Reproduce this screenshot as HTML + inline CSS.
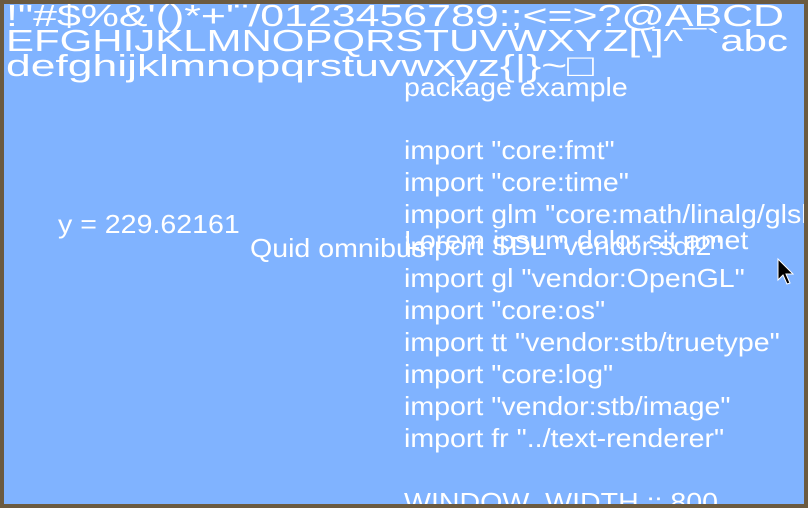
<!DOCTYPE html>
<html><head><meta charset="utf-8"><style>
html,body{margin:0;padding:0;}
body{width:808px;height:508px;overflow:hidden;background:#80b3ff;position:relative;font-family:"Liberation Sans",sans-serif;}
svg{position:absolute;left:0;top:0;}
</style></head><body>
<svg width="808" height="508" viewBox="0 0 808 508" xmlns="http://www.w3.org/2000/svg">
<rect x="0" y="0" width="808" height="508" fill="#80b3ff"/>
<g fill="#ffffff" font-family="Liberation Sans, sans-serif">
<text x="6" y="26" font-size="31" textLength="778" lengthAdjust="spacingAndGlyphs">!"#$%&amp;'()*+'¨/0123456789:;&lt;=&gt;?@ABCD</text>
<text x="6" y="51" font-size="31" textLength="782" lengthAdjust="spacingAndGlyphs">EFGHIJKLMNOPQRSTUVWXYZ[\]^¯`abc</text>
<text x="6" y="76" font-size="31" textLength="588" lengthAdjust="spacingAndGlyphs">defghijklmnopqrstuvwxyz{|}~□</text>
<g font-size="25.5">
<g transform="translate(404,0) scale(1.12,1)">
<text x="0" y="96">package example</text>
<text x="0" y="159">import "core:fmt"</text>
<text x="0" y="191">import "core:time"</text>
<text x="0" y="223">import glm "core:math/linalg/glsl"</text>
<text x="0" y="255">import SDL "vendor:sdl2"</text>
<text x="0" y="249">Lorem ipsum dolor sit amet</text>
<text x="0" y="287">import gl "vendor:OpenGL"</text>
<text x="0" y="319">import "core:os"</text>
<text x="0" y="351">import tt "vendor:stb/truetype"</text>
<text x="0" y="383">import "core:log"</text>
<text x="0" y="415">import "vendor:stb/image"</text>
<text x="0" y="447">import fr "../text-renderer"</text>
<text x="0" y="511">WINDOW_WIDTH :: 800</text>
</g>
<text x="0" y="233" transform="translate(58,0) scale(1.12,1)">y = 229.62161</text>
<text x="0" y="257" transform="translate(250,0) scale(1.12,1)">Quid omnibus</text>
</g>
</g>
<path d="M778,259 L778,280 L783,275 L787,284 L790,283 L786,274 L793,274 Z" fill="#000" stroke="#fff" stroke-width="1"/>
<rect x="2" y="2" width="804" height="504" fill="none" stroke="#6b5a40" stroke-width="4"/>
</svg>
</body></html>
